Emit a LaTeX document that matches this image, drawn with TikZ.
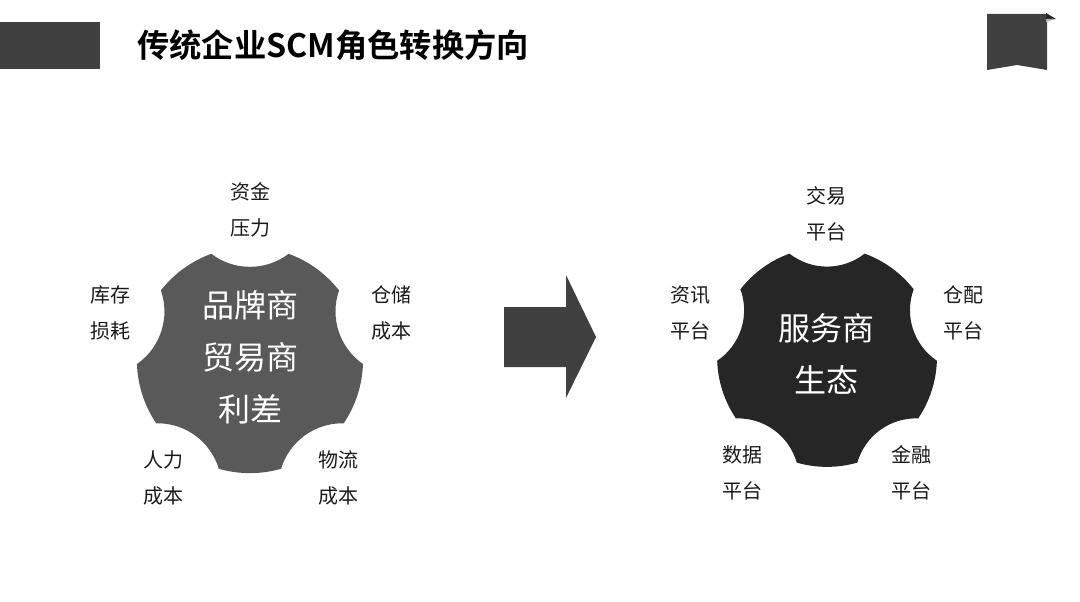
\documentclass[tikz,border=0pt]{standalone}
\usepackage{fontspec}
\usetikzlibrary{calc}
\newfontfamily\cjk{Noto Sans CJK SC}[BoldFont={Noto Sans CJK SC Bold}]
\definecolor{hdr}{HTML}{404040}
\definecolor{gearA}{HTML}{595959}
\definecolor{gearB}{HTML}{262626}
\definecolor{lbl}{HTML}{1A1A1A}
\tikzset{
  lab/.style={font=\cjk\fontsize{20}{36}\selectfont, align=center, text=lbl, inner sep=0pt},
  mid/.style={font=\cjk\fontsize{32}{52}\selectfont, align=center, text=white, inner sep=0pt},
}
\begin{document}
\begin{tikzpicture}[x=1pt,y=1pt]
\useasboundingbox (0,0) rectangle (1080,-602);
% header
\fill[hdr] (0,-22) rectangle (100,-69);
\node[font=\cjk\bfseries\fontsize{32.3}{40}\selectfont, anchor=west, inner sep=0pt] (title) at (137,-45) {传统企业SCM角色转换方向};
% bookmark icon
\fill[hdr] (987,-14) -- (1047,-14) -- (1047,-70) -- (1017,-65) -- (987,-70) -- cycle;
\fill[gearB] (1046,-13) -- (1056,-19) -- (1046,-19) -- cycle;
\fill[gray!60] (1046,-19) -- (1056,-19) -- (1046,-22) -- cycle;
% left gear
\coordinate (g1) at (250,-360);
\fill[gearA] ($(g1)+(70:113)$)
  \foreach \a in {90,162,234,306,378} {
    arc[start angle=\a+217.2, end angle=\a+142.8, radius=64]
    arc[start angle=\a+20, end angle=\a+52, radius=113]
  } -- cycle;
% right gear
\coordinate (g2) at (827,-357);
\fill[gearB] ($(g2)+(70:110)$)
  \foreach \a in {90,162,234,306,378} {
    arc[start angle=\a+218.1, end angle=\a+141.9, radius=60.9]
    arc[start angle=\a+20, end angle=\a+52, radius=110]
  } -- cycle;
% arrow
\fill[hdr] (504,-307) -- (566,-307) -- (566,-275) -- (596,-337) -- (566,-398) -- (566,-367) -- (504,-367) -- cycle;
% centre texts
\node[mid] (c1) at (250,-357) {品牌商\\贸易商\\利差};
\node[mid] (c2) at (826,-354) {服务商\\生态};
% left labels
\node[lab] (l1) at (250,-210) {资金\\压力};
\node[lab] (l2) at (391,-313) {仓储\\成本};
\node[lab] (l3) at (110,-313) {库存\\损耗};
\node[lab] (l4) at (163,-478) {人力\\成本};
\node[lab] (l5) at (338,-478) {物流\\成本};
% right labels
\node[lab] (r1) at (826,-214) {交易\\平台};
\node[lab] (r2) at (690,-313) {资讯\\平台};
\node[lab] (r3) at (963,-313) {仓配\\平台};
\node[lab] (r4) at (742,-473) {数据\\平台};
\node[lab] (r5) at (911,-473) {金融\\平台};
\end{tikzpicture}
\end{document}
